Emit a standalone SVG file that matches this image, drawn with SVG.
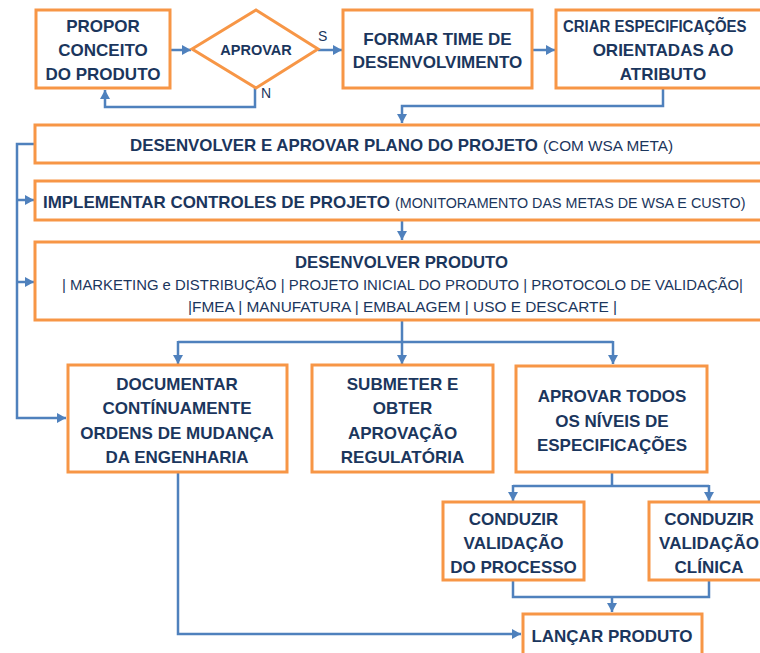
<svg xmlns="http://www.w3.org/2000/svg" width="760" height="653" viewBox="0 0 760 653">
<defs>
<marker id="ah" markerUnits="userSpaceOnUse" markerWidth="10" markerHeight="10" refX="9" refY="5" orient="auto">
<path d="M0,0 L9,5 L0,10 z" fill="#4F81BD"/>
</marker>
<style>
.box{fill:#fff;stroke:#F79646;stroke-width:3}
.t{font-family:"Liberation Sans",Arial,sans-serif;font-weight:bold;font-size:17px;fill:#1B365D;text-anchor:middle}
.r{font-family:"Liberation Sans",Arial,sans-serif;font-weight:normal;font-size:15px;fill:#1B365D}
.b{font-family:"Liberation Sans",Arial,sans-serif;font-weight:bold;font-size:17px;fill:#1B365D}
.c{fill:none;stroke:#4F81BD;stroke-width:2.5}
.a{marker-end:url(#ah)}
</style>
</defs>
<rect width="760" height="653" fill="#fff"/>

<g id="connectors">
<path class="c a" d="M170,50 H191"/>
<path class="c a" d="M318,50 H342"/>
<path class="c a" d="M255,88 V107 H105 V90"/>
<path class="c a" d="M532,50 H555"/>
<path class="c a" d="M663,88 V106 H402 V123"/>
<path class="c a" d="M402,221 V240"/>
<path class="c a" d="M35,144 H17 V418 H66"/>
<path class="c a" d="M17,200 H34"/>
<path class="c a" d="M17,282 H34"/>
<path class="c" d="M402,321 V342 M178,342 H613"/>
<path class="c a" d="M178,341 V364"/>
<path class="c a" d="M402,341 V364"/>
<path class="c a" d="M613,341 V364"/>
<path class="c" d="M612,472 V486 M513,486 H709"/>
<path class="c a" d="M513,485 V501"/>
<path class="c a" d="M709,485 V501"/>
<path class="c" d="M513,580 V597 H709 V580"/>
<path class="c a" d="M612,596 V612"/>
<path class="c a" d="M178,472 V634 H521"/>
</g>

<g id="propor">
<rect class="box" x="36" y="10" width="134" height="78"/>
<text class="t" x="103" y="32">PROPOR</text>
<text class="t" x="103" y="56">CONCEITO</text>
<text class="t" x="103" y="80">DO PRODUTO</text>
</g>

<g id="aprovar">
<polygon class="box" points="192,49 256,10 318,49 256,88"/>
<text class="t" style="font-size:14.5px" x="256" y="55">APROVAR</text>
<text class="r" style="font-size:14px" x="318" y="41">S</text>
<text class="r" style="font-size:14px" x="261" y="98">N</text>
</g>

<g id="formar">
<rect class="box" x="343" y="10" width="189" height="78"/>
<text class="t" x="437.5" y="45">FORMAR TIME DE</text>
<text class="t" x="437.5" y="68">DESENVOLVIMENTO</text>
</g>

<g id="criar">
<rect class="box" x="556" y="10" width="214" height="78"/>
<text class="b" transform="translate(563,32) scale(0.88,1)" x="0" y="0">CRIAR ESPECIFICAÇÕES</text>
<text class="t" x="663" y="56">ORIENTADAS AO</text>
<text class="t" x="663" y="80">ATRIBUTO</text>
</g>

<g id="plano">
<rect class="box" x="35" y="125" width="740" height="38"/>
<text class="b" x="130" y="151" textLength="408" lengthAdjust="spacingAndGlyphs">DESENVOLVER E APROVAR PLANO DO PROJETO</text>
<text class="r" x="543" y="151" textLength="130" lengthAdjust="spacingAndGlyphs">(COM WSA META)</text>
</g>

<g id="controles">
<rect class="box" x="35" y="181" width="740" height="39"/>
<text class="b" x="43" y="208" textLength="347" lengthAdjust="spacingAndGlyphs">IMPLEMENTAR CONTROLES DE PROJETO</text>
<text class="r" transform="translate(395,208) scale(0.955,1)" x="0" y="0">(MONITORAMENTO DAS METAS DE WSA E CUSTO)</text>
</g>

<g id="desenvolver">
<rect class="box" x="35" y="242" width="740" height="78"/>
<text class="b" x="295" y="268" textLength="213" lengthAdjust="spacingAndGlyphs">DESENVOLVER PRODUTO</text>
<text class="r" x="62" y="290" textLength="681" lengthAdjust="spacingAndGlyphs">| MARKETING e DISTRIBUÇÃO | PROJETO INICIAL DO PRODUTO | PROTOCOLO DE VALIDAÇÃO|</text>
<text class="r" x="188" y="312" textLength="429" lengthAdjust="spacingAndGlyphs">|FMEA | MANUFATURA | EMBALAGEM | USO E DESCARTE |</text>
</g>

<g id="documentar">
<rect class="box" x="68" y="365" width="219" height="107"/>
<text class="t" x="177" y="390">DOCUMENTAR</text>
<text class="t" x="177" y="414">CONTÍNUAMENTE</text>
<text class="t" x="177" y="439">ORDENS DE MUDANÇA</text>
<text class="t" x="177" y="463">DA ENGENHARIA</text>
</g>

<g id="submeter">
<rect class="box" x="312" y="365" width="181" height="107"/>
<text class="t" x="402.5" y="390">SUBMETER E</text>
<text class="t" x="402.5" y="414">OBTER</text>
<text class="t" x="402.5" y="439">APROVAÇÃO</text>
<text class="t" x="402.5" y="463">REGULATÓRIA</text>
</g>

<g id="aprovar-todos">
<rect class="box" x="516" y="366" width="191" height="106"/>
<text class="t" x="612" y="402">APROVAR TODOS</text>
<text class="t" x="612" y="427">OS NÍVEIS DE</text>
<text class="t" x="612" y="451">ESPECIFICAÇÕES</text>
</g>

<g id="validacao-processo">
<rect class="box" x="443" y="502" width="141" height="78"/>
<text class="t" x="513.5" y="525">CONDUZIR</text>
<text class="t" x="513.5" y="549">VALIDAÇÃO</text>
<text class="t" x="513.5" y="573">DO PROCESSO</text>
</g>

<g id="validacao-clinica">
<rect class="box" x="649" y="502" width="130" height="78"/>
<text class="t" x="709" y="525">CONDUZIR</text>
<text class="t" x="709" y="549">VALIDAÇÃO</text>
<text class="t" x="709" y="573">CLÍNICA</text>
</g>

<g id="lancar">
<rect class="box" x="523" y="614" width="179" height="45"/>
<text class="t" x="612" y="642">LANÇAR PRODUTO</text>
</g>
</svg>
